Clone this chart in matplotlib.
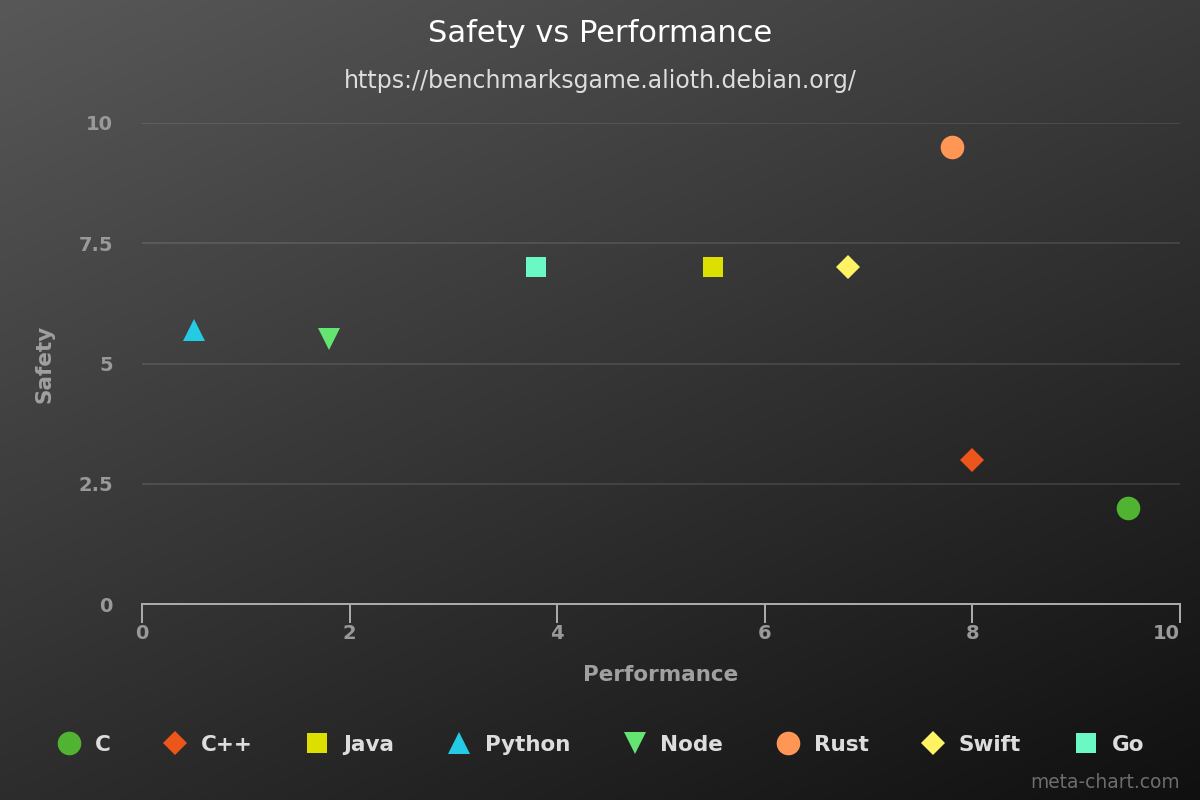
import numpy as np
import matplotlib
matplotlib.use("Agg")
import matplotlib.pyplot as plt

# languages, performance (x) and safety (y)
languages = ['C', 'C++', 'Java', 'Python', 'Node', 'Rust', 'Swift', 'Go']
performance = [9.5, 8.0, 5.5, 0.5, 1.8, 7.8, 6.8, 3.8]
safety = [2.0, 3.0, 7.0, 5.7, 5.5, 9.5, 7.0, 7.0]

x_ticks = [0, 2, 4, 6, 8, 10]
y_ticks = [0, 2.5, 5, 7.5, 10]
y_tick_labels = ['0', '2.5', '5', '7.5', '10']

colors = ['#50B432', '#ED561B', '#DDDF00', '#24CBE5', '#64E572', '#FF9655', '#FFF263', '#6AF9C4']
markers = ['o', 'D', 's', '^', 'v', 'o', 'D', 's']
sizes = {'o': 17, 'D': 12, 's': 15, '^': 16, 'v': 16}

plt.rcParams['font.family'] = ['DejaVu Sans']

fig = plt.figure(figsize=(12, 8), dpi=100)

# diagonal gradient background
bg = fig.add_axes([0, 0, 1, 1], zorder=-10)
gx, gy = np.meshgrid(np.linspace(0, 1, 300), np.linspace(0, 1, 200))
t = 0.4 * gx + 0.6 * gy
shade = (88 - 72 * t) / 255.0
img = np.dstack([shade, shade, shade])
bg.imshow(img, aspect='auto', extent=[0, 1, 0, 1], origin='upper')
bg.set_axis_off()

ax = fig.add_axes([142 / 1200, 1 - 604 / 800, 1038 / 1200, 481 / 800])
ax.set_facecolor('none')

for i in range(len(languages)):
    ax.plot(performance[i], safety[i], linestyle='none', marker=markers[i],
            markersize=sizes[markers[i]], color=colors[i], markeredgewidth=0,
            label=languages[i], clip_on=False, zorder=3)

ax.set_xlim(0, 10)
ax.set_ylim(0, 10)
ax.set_xticks(x_ticks)
ax.set_yticks(y_ticks)
ax.set_yticklabels(y_tick_labels)
ax.grid(axis='y', color='white', alpha=0.1, linewidth=1.44)
ax.set_axisbelow(True)

for s in ['top', 'right', 'left']:
    ax.spines[s].set_visible(False)
ax.spines['bottom'].set_color('#aaaaaa')
ax.spines['bottom'].set_linewidth(1.44)
ax.spines['bottom'].set_zorder(4)

ax.tick_params(axis='x', direction='out', length=13.5, width=1.44, color='#aaaaaa',
               labelcolor='#999999', labelsize=14, pad=1)
ax.tick_params(axis='y', length=0, labelcolor='#999999', labelsize=14, pad=21)
for lab in ax.get_xticklabels() + ax.get_yticklabels():
    lab.set_fontweight('bold')
ax.get_xticklabels()[-1].set_horizontalalignment('right')

fig.text(600 / 1200, 1 - 33 / 800, 'Safety vs Performance', color='white',
         fontsize=22, ha='center', va='center')
fig.text(600 / 1200, 1 - 81 / 800, 'https://benchmarksgame.alioth.debian.org/',
         color='#dddddd', fontsize=17, ha='center', va='center')
fig.text(661 / 1200, 1 - 675 / 800, 'Performance', color='#a0a0a0',
         fontsize=15.5, fontweight='bold', ha='center', va='center')
fig.text(44 / 1200, 1 - 364 / 800, 'Safety', color='#a0a0a0', rotation=90,
         fontsize=15.5, fontweight='bold', ha='center', va='center')
fig.text(1180 / 1200, 1 - 783 / 800, 'meta-chart.com', color='#6e6e6e',
         fontsize=13.4, ha='right', va='center')

leg = fig.legend(loc='center', bbox_to_anchor=(0.5, 1 - 745 / 800), ncol=8,
                 frameon=False, handlelength=1.2, handletextpad=0.6,
                 columnspacing=2.4, prop={'size': 15.5, 'weight': 'bold'})
for txt in leg.get_texts():
    txt.set_color('#dddddd')

fig.savefig('out.png', dpi=100)
